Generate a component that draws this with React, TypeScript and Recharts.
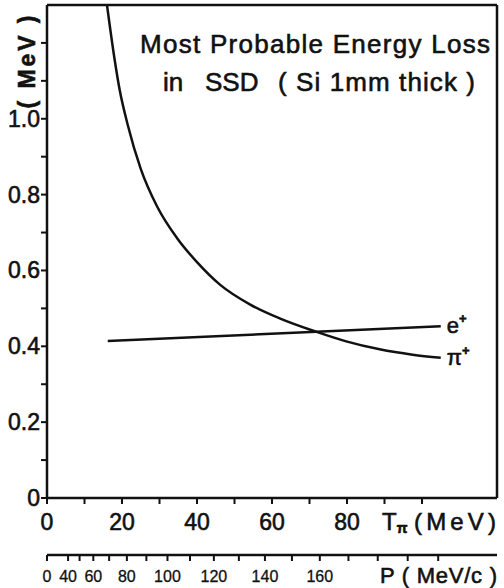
import React from "react";
import {
    LineChart,
    Line,
    XAxis,
    YAxis,
    ReferenceLine,
    LabelList,
    Customized,
} from "recharts";

// pion kinetic energy (MeV) vs most probable loss (MeV)
const pionT = [16, 17.9, 19.4, 21.5, 25, 29.4, 34.7, 40, 46.2, 54.2, 62.2, 71.9, 79.8, 88.7, 97.5, 105];
const pionLoss = [1.3, 1.165, 1.075, 0.985, 0.868, 0.768, 0.685, 0.622, 0.562, 0.51, 0.473, 0.438, 0.413, 0.392, 0.378, 0.37];

// positron line
const positronT = [16.2, 105];
const positronLoss = [0.414, 0.453];

const yTicks = [0, 0.1, 0.2, 0.3, 0.4, 0.5, 0.6, 0.7, 0.8, 0.9, 1.0, 1.1, 1.2];
const yLabels = ["0", "0.2", "0.4", "0.6", "0.8", "1.0"];
const tTicks = [0, 10, 20, 30, 40, 50, 60, 70, 80, 90, 100];
const tLabels = [0, 20, 40, 60, 80];
const pTicks = [0, 40, 50, 60, 70, 80, 90, 100, 110, 120, 130, 140, 150, 160, 170, 180, 190, 200];
const pLabels = [0, 40, 60, 80, 100, 120, 140, 160];

const PION_MASS = 139.57;
const pToT = (p: number) => Math.sqrt(p * p + PION_MASS * PION_MASS) - PION_MASS;

const FONT = "'Liberation Sans', Arial, sans-serif";
const INK = "#111";
const HEAVY = { stroke: INK, strokeWidth: 0.6 };

const pionData = pionT.map((t, i) => ({ t, loss: pionLoss[i] }));
const positronData = positronT.map((t, i) => ({ t, loss: positronLoss[i] }));
const pAxisTicks = pTicks.map(pToT);

const YTick = ({ x, y, payload }: any) => {
    const v = Number(payload.value);
    const label = yLabels.find((l) => Math.abs(Number(l) - v) < 1e-6);
    if (label === undefined) return null;
    return (
        <text x={x - 1} y={y + 8} textAnchor="end" fontSize={23} fontFamily={FONT} fill={INK} {...HEAVY}>
            {label}
        </text>
    );
};

const TTick = ({ x, y, payload }: any) => {
    if (!tLabels.includes(payload.value)) return null;
    return (
        <text x={x} y={y + 26} textAnchor="middle" fontSize={23} fontFamily={FONT} fill={INK} {...HEAVY}>
            {payload.value}
        </text>
    );
};

const PTick = ({ x, y, payload }: any) => {
    const i = pAxisTicks.findIndex((t) => Math.abs(t - Number(payload.value)) < 1e-6);
    const p = pTicks[i];
    if (!pLabels.includes(p)) return null;
    return (
        <text x={x} y={y + 21} textAnchor="middle" fontSize={16} fontFamily={FONT} fill={INK} stroke={INK} strokeWidth={0.3}>
            {p}
        </text>
    );
};

const endLabel = (name: string, last: number) => (props: any) => {
    const { x, y, index } = props;
    if (index !== last) return null;
    return (
        <text x={x + 6} y={y + 7} fontSize={22} fontFamily={FONT} fill={INK} {...HEAVY}>
            {name}
            <tspan fontSize={13} fontWeight="bold" dy={-10}>+</tspan>
        </text>
    );
};

const Annotations = () => (
    <g fontFamily={FONT} fill={INK} {...HEAVY}>
        <text x={140} y={53} fontSize={26} textLength={350}>
            Most Probable Energy Loss
        </text>
        <text y={91} fontSize={26}>
            <tspan x={163}>in</tspan>
            <tspan x={205}>SSD</tspan>
            <tspan x={278} textLength={197}>( Si 1mm thick )</tspan>
        </text>
        <text
            transform="translate(35,62) rotate(-90)"
            textAnchor="middle"
            fontSize={23}
            fontWeight="bold"
            textLength={93}
        >
            ( MeV )
        </text>
        <text y={530} fontSize={24}>
            <tspan x={382}>T</tspan>
            <tspan fontSize={14} fontWeight="bold" dy={3}>π</tspan>
            <tspan x={414} dy={-3} textLength={82}>(MeV)</tspan>
        </text>
        <text x={380} y={583} fontSize={22} textLength={117}>
            P ( MeV/c )
        </text>
    </g>
);

export default function App() {
    return (
        <div style={{ position: "absolute", left: 0, top: 0, background: "#fff" }}>
            <LineChart
                width={504}
                height={588}
                margin={{ top: 5, right: 7, left: 0, bottom: 0 }}
            >
                <YAxis
                    type="number"
                    domain={[0, 1.3]}
                    ticks={yTicks}
                    interval={0}
                    width={47}
                    tickSize={6}
                    tickMargin={0}
                    allowDataOverflow
                    axisLine={{ stroke: INK, strokeWidth: 2.5 }}
                    tickLine={{ stroke: INK, strokeWidth: 2 }}
                    tick={<YTick />}
                />
                <XAxis
                    xAxisId={0}
                    dataKey="t"
                    type="number"
                    domain={[0, 120]}
                    ticks={tTicks}
                    interval={0}
                    height={57}
                    tickSize={6}
                    tickMargin={0}
                    allowDataOverflow
                    axisLine={{ stroke: INK, strokeWidth: 2.5 }}
                    tickLine={{ stroke: INK, strokeWidth: 2 }}
                    tick={<TTick />}
                />
                <XAxis
                    xAxisId={1}
                    dataKey="t"
                    type="number"
                    domain={[0, 120]}
                    ticks={pAxisTicks}
                    interval={0}
                    height={33}
                    tickSize={6}
                    tickMargin={0}
                    allowDataOverflow
                    axisLine={{ stroke: INK, strokeWidth: 2.5 }}
                    tickLine={{ stroke: INK, strokeWidth: 2 }}
                    tick={<PTick />}
                />
                <ReferenceLine xAxisId={0} y={1.3} stroke={INK} strokeWidth={2.5} />
                <ReferenceLine xAxisId={0} x={120} stroke={INK} strokeWidth={2.5} />
                <Line
                    xAxisId={0}
                    data={pionData}
                    dataKey="loss"
                    type="monotone"
                    stroke={INK}
                    strokeWidth={2.5}
                    dot={false}
                    isAnimationActive={false}
                >
                    <LabelList dataKey="loss" content={endLabel("\u03c0", pionT.length - 1)} />
                </Line>
                {/* same domain as the T axis, bound here so the P scale gets its ticks */}
                <Line
                    xAxisId={1}
                    data={positronData}
                    dataKey="loss"
                    type="linear"
                    stroke={INK}
                    strokeWidth={2.5}
                    dot={false}
                    isAnimationActive={false}
                >
                    <LabelList dataKey="loss" content={endLabel("e", positronT.length - 1)} />
                </Line>
                <Customized component={<Annotations />} />
            </LineChart>
        </div>
    );
}
